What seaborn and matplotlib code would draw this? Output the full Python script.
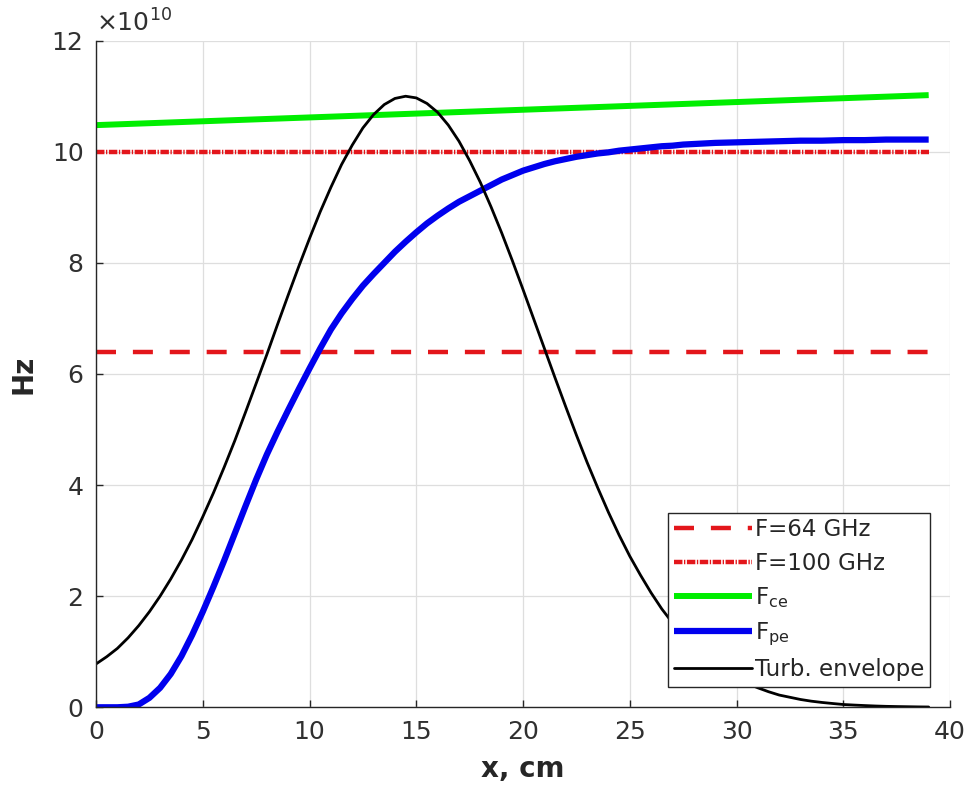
import numpy as np
import pandas as pd
import matplotlib
matplotlib.use("Agg")
import matplotlib.pyplot as plt
import seaborn as sns

# x positions (cm), half-cm steps
x_cm = [i / 2 for i in range(79)]

# values in units of 1e10 Hz
f_pe = [0.0, 0.0, 0.0, 0.01, 0.05, 0.17, 0.35, 0.6, 0.92, 1.3,
        1.72, 2.17, 2.64, 3.13, 3.62, 4.1, 4.55, 4.96, 5.35, 5.73,
        6.1, 6.46, 6.8, 7.09, 7.35, 7.59, 7.8, 8.0, 8.2, 8.38,
        8.55, 8.71, 8.85, 8.98, 9.1, 9.2, 9.3, 9.4, 9.5, 9.58,
        9.66, 9.72, 9.78, 9.83, 9.87, 9.91, 9.94, 9.97, 9.99, 10.02,
        10.04, 10.06, 10.08, 10.1, 10.11, 10.13, 10.14, 10.15, 10.16, 10.165,
        10.17, 10.175, 10.18, 10.185, 10.19, 10.195, 10.2, 10.2, 10.2, 10.205,
        10.21, 10.21, 10.21, 10.215, 10.22, 10.22, 10.22, 10.22, 10.22]

turb_env = [0.78, 0.91, 1.06, 1.25, 1.47, 1.72, 2.0, 2.31, 2.65, 3.02,
            3.43, 3.86, 4.32, 4.80, 5.31, 5.83, 6.35, 6.89, 7.42, 7.94,
            8.44, 8.92, 9.36, 9.77, 10.12, 10.43, 10.67, 10.85, 10.96, 11.0,
            10.97, 10.87, 10.71, 10.48, 10.19, 9.84, 9.45, 9.01, 8.54, 8.04,
            7.52, 6.99, 6.46, 5.93, 5.41, 4.90, 4.41, 3.95, 3.51, 3.10,
            2.72, 2.38, 2.06, 1.77, 1.52, 1.29, 1.09, 0.91, 0.76, 0.63,
            0.52, 0.43, 0.35, 0.28, 0.22, 0.18, 0.14, 0.11, 0.087, 0.068,
            0.05, 0.04, 0.031, 0.023, 0.017, 0.013, 0.01, 0.007, 0.005]

# F_ce is a straight line between its end points
x_ce = [0, 39]
f_ce = [10.48, 11.02]

# probing frequencies
x_flat = [0, 39]
f_64 = [6.4, 6.4]
f_100 = [10.0, 10.0]

sns.set_theme(style="whitegrid")
plt.rcParams['font.family'] = ['DejaVu Sans']
plt.rcParams['mathtext.fontset'] = 'dejavusans'

fig = plt.figure(figsize=(9.72, 7.87), dpi=100)
ax = fig.add_axes([0.0988, 0.1013, 0.8786, 0.847])

red = "#e3161b"
sns.lineplot(x=x_flat, y=f_64, ax=ax, color=red, lw=3.2,
             linestyle=(0, (4.5, 3.8)), label="F=64 GHz")
sns.lineplot(x=x_flat, y=f_100, ax=ax, color=red, lw=3.2,
             linestyle=(0, (1.9, 0.35, 0.3, 0.35)), label="F=100 GHz")
sns.lineplot(x=x_ce, y=f_ce, ax=ax, color="#00ee00", lw=4.3,
             solid_capstyle="butt", label=r"F$_{\mathrm{ce}}$")
sns.lineplot(x=x_cm, y=f_pe, ax=ax, color="#0000ee", lw=4.5,
             solid_capstyle="butt", solid_joinstyle="round",
             label=r"F$_{\mathrm{pe}}$")
sns.lineplot(x=x_cm, y=turb_env, ax=ax, color="black", lw=2.0,
             solid_joinstyle="round", label="Turb. envelope")

ax.set_xlim(0, 40)
ax.set_ylim(0, 12)
ax.set_xticks(np.arange(0, 41, 5))
ax.set_yticks(np.arange(0, 13, 2))

ax.grid(True, color="#dedede", lw=0.9)
ax.set_facecolor("white")
for side in ["top", "right"]:
    ax.spines[side].set_visible(False)
for side in ["left", "bottom"]:
    ax.spines[side].set_visible(True)
    ax.spines[side].set_color("#262626")
    ax.spines[side].set_linewidth(1.0)

ax.tick_params(axis="both", direction="in", length=5, width=1.0,
               colors="#262626", labelsize=18, labelcolor="#303030",
               left=True, bottom=True, top=False, right=False)
ax.tick_params(axis="x", pad=9)
ax.tick_params(axis="y", pad=9)

ax.set_xlabel("x, cm", fontsize=20, fontweight="bold", labelpad=8)
ax.set_ylabel("Hz", fontsize=20, fontweight="bold", labelpad=10)

ax.text(0.0, 1.006, r"$\times10^{10}$", transform=ax.transAxes,
        fontsize=18, color="#303030", ha="left", va="bottom")

leg = ax.legend(loc="lower right", bbox_to_anchor=(0.977, 0.031),
                borderaxespad=0, fontsize=16.5, handlelength=3.4,
                handletextpad=0.15, labelspacing=0.45, borderpad=0.25,
                frameon=True, fancybox=False, framealpha=1)
leg.get_frame().set_edgecolor("#262626")
leg.get_frame().set_linewidth(1.0)

fig.savefig("out.png", dpi=100)
